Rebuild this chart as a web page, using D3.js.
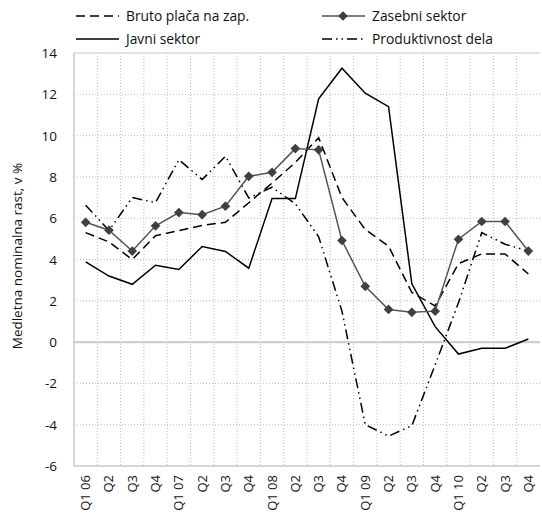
<!DOCTYPE html>
<html>
<head>
<meta charset="utf-8">
<script src="https://cdn.jsdelivr.net/npm/d3@7"></script>
<style>
  body { margin: 0; background: #fff; }
  text { font-family: "Open Sans", "Noto Sans", sans-serif; fill: #111; }
</style>
</head>
<body>
<svg width="542" height="513"></svg>
<script>
// quarters and series (medletna rast, v %)
var kvartali = ["Q1 06","Q2","Q3","Q4","Q1 07","Q2","Q3","Q4","Q1 08","Q2","Q3","Q4",
                "Q1 09","Q2","Q3","Q4","Q1 10","Q2","Q3","Q4"];
var bruto   = [5.3, 4.85, 4.0, 5.15, 5.4, 5.65, 5.8, 6.75, 7.7, 8.7, 9.9, 7.0,
               5.45, 4.65, 2.4, 1.75, 3.8, 4.27, 4.27, 3.3];
var zasebni = [5.8, 5.42, 4.41, 5.63, 6.27, 6.17, 6.58, 8.03, 8.22, 9.37, 9.31, 4.92,
               2.7, 1.58, 1.44, 1.5, 4.98, 5.84, 5.84, 4.41];
var javni   = [3.88, 3.2, 2.8, 3.72, 3.52, 4.63, 4.39, 3.58, 6.95, 6.95, 11.78, 13.26,
               12.05, 11.4, 2.82, 0.75, -0.58, -0.3, -0.3, 0.15];
var produkt = [6.63, 5.4, 7.0, 6.76, 8.83, 7.87, 9.0, 6.98, 7.5, 6.7, 5.1, 1.5,
               -4.0, -4.55, -4.05, -1.1, 1.9, 5.3, 4.74, 4.41];
var yTicks = [-6, -4, -2, 0, 2, 4, 6, 8, 10, 12, 14];

var svg = d3.select("svg");
var L = 74, R = 540, T = 53, B = 466;

var idx = d3.range(kvartali.length);
var scX = d3.scaleBand().domain(idx).range([L, R]).padding(0);
var cx = i => scX(i) + scX.bandwidth() / 2;
var scY = d3.scaleLinear().domain([-6, 14]).range([B, T]);

// grid
var grid = svg.append("g");
grid.selectAll("line.h").data(yTicks.filter(v => v !== 0 && v !== -6 && v !== 14))
  .enter().append("line")
  .attr("x1", L).attr("x2", R)
  .attr("y1", d => scY(d)).attr("y2", d => scY(d))
  .attr("stroke", "#bdbdbd").attr("stroke-dasharray", "1,2");
grid.selectAll("line.v").data(idx.slice(1))
  .enter().append("line")
  .attr("x1", d => scX(d)).attr("x2", d => scX(d))
  .attr("y1", T).attr("y2", B)
  .attr("stroke", "#bdbdbd").attr("stroke-dasharray", "1,2");

// frame
grid.append("line").attr("x1", L).attr("x2", R).attr("y1", scY(14)).attr("y2", scY(14))
  .attr("stroke", "#c8c8c8");
grid.append("line").attr("x1", L).attr("x2", R).attr("y1", B).attr("y2", B)
  .attr("stroke", "#c8c8c8").attr("stroke-width", 1.5);
grid.append("line").attr("x1", L).attr("x2", L).attr("y1", T).attr("y2", B)
  .attr("stroke", "#c8c8c8").attr("stroke-width", 1.5);
grid.append("line").attr("x1", L).attr("x2", R).attr("y1", scY(0)).attr("y2", scY(0))
  .attr("stroke", "#cfcfcf").attr("stroke-width", 2.2);

// axes text
svg.append("g").selectAll("text").data(yTicks).enter().append("text")
  .attr("x", 57).attr("y", d => scY(d) + 5)
  .attr("text-anchor", "end").attr("font-size", 13.5)
  .text(d => d);

svg.append("g").selectAll("text").data(idx).enter().append("text")
  .attr("transform", d => "translate(" + (cx(d) + 4.5) + "," + 475 + ") rotate(-90)")
  .attr("text-anchor", "end").attr("font-size", 13)
  .text(d => kvartali[d]);

svg.append("text")
  .attr("transform", "translate(22,256) rotate(-90)")
  .attr("text-anchor", "middle").attr("font-size", 13.5)
  .text("Medletna nominalna rast, v %");

// series
var lineMaker = d3.line().x((d, i) => cx(i)).y(d => scY(d));
var series = [
  { data: javni,   color: "#000", dash: null },
  { data: produkt, color: "#000", dash: "10,4,1.5,4,1.5,4" },
  { data: bruto,   color: "#000", dash: "9,5" },
  { data: zasebni, color: "#555", dash: null }
];
svg.append("g").selectAll("path").data(series).enter().append("path")
  .attr("fill", "none")
  .attr("stroke", d => d.color)
  .attr("stroke-width", 1.5)
  .attr("stroke-dasharray", d => d.dash)
  .attr("d", d => lineMaker(d.data));

var diamond = d3.symbol().type(d3.symbolDiamond2).size(60);
svg.append("g").selectAll("path").data(zasebni).enter().append("path")
  .attr("transform", (d, i) => "translate(" + cx(i) + "," + scY(d) + ")")
  .attr("d", diamond()).attr("fill", "#404040");

// legend
var legend = [
  { name: "Bruto plača na zap.", x: 76, y: 16, dash: "9,5", color: "#000", mark: false },
  { name: "Zasebni sektor", x: 322, y: 16, dash: null, color: "#555", mark: true },
  { name: "Javni sektor", x: 76, y: 39, dash: null, color: "#000", mark: false },
  { name: "Produktivnost dela", x: 322, y: 39, dash: "10,4,1.5,4,1.5,4", color: "#000", mark: false }
];
var lg = svg.append("g").selectAll("g").data(legend).enter().append("g")
  .attr("transform", d => "translate(" + d.x + "," + d.y + ")");
lg.append("line").attr("x1", 0).attr("x2", 43).attr("y1", 0).attr("y2", 0)
  .attr("stroke", d => d.color).attr("stroke-width", 1.5)
  .attr("stroke-dasharray", d => d.dash);
lg.filter(d => d.mark).append("path")
  .attr("transform", "translate(21,0)").attr("d", diamond()).attr("fill", "#404040");
lg.append("text").attr("x", 50).attr("y", 5).attr("font-size", 13.8)
  .text(d => d.name);
</script>
</body>
</html>
